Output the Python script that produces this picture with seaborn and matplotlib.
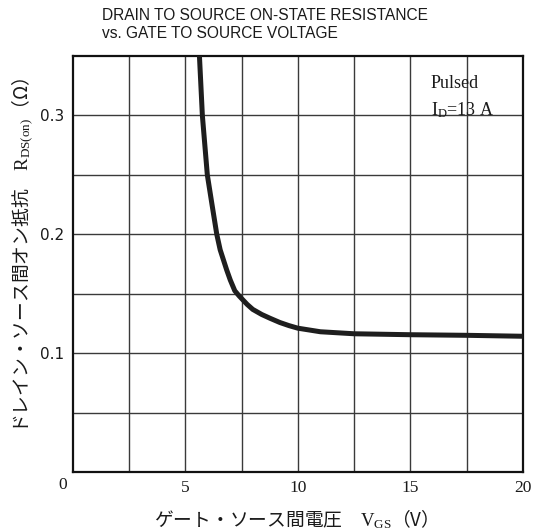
import matplotlib
matplotlib.use("Agg")
import matplotlib.pyplot as plt
import seaborn as sns
import pandas as pd

# R_DS(on) versus V_GS, pulsed, I_D = 13 A
vgs = [5.60, 5.63, 5.76, 5.98, 6.18, 6.40, 6.55, 6.84, 7.00, 7.20, 7.40, 7.50,
       7.75, 8.00, 8.40, 8.77, 9.20, 9.60, 10.0, 11.0, 12.5, 15.0, 17.5, 20.0]
rds_on = [0.360, 0.350, 0.300, 0.250, 0.226, 0.200, 0.187, 0.170, 0.1615, 0.1525,
          0.1480, 0.1460, 0.1410, 0.1368, 0.1325, 0.1293, 0.1258, 0.1232, 0.1210,
          0.1180, 0.1163, 0.1155, 0.1150, 0.1142]

x_ticks = [5, 10, 15, 20]
y_ticks = [0.1, 0.2, 0.3]

title_lines = ["DRAIN TO SOURCE ON-STATE RESISTANCE", "vs. GATE TO SOURCE VOLTAGE"]
x_label = "ゲート・ソース間電圧　$\\mathrm{V_{GS}}$（V）"
y_label = "ドレイン・ソース間オン抵抗　$\\mathrm{R_{DS(on)}}$（Ω）"
condition = ["Pulsed", "$\\mathrm{I_D}$=13 A"]

sns.set_theme(style="white")
plt.rcParams["font.family"] = ["Noto Sans CJK JP", "DejaVu Sans"]
plt.rcParams["mathtext.fontset"] = "custom"
plt.rcParams["mathtext.rm"] = "Liberation Serif"
plt.rcParams["mathtext.it"] = "Liberation Serif:italic"
plt.rcParams["mathtext.bf"] = "Liberation Serif:bold"

df = pd.DataFrame({"vgs": vgs, "rds_on": rds_on})

fig = plt.figure(figsize=(5.36, 5.32), dpi=100)
ax = fig.add_axes([0.1356, 0.1128, 0.8401, 0.7819])

# grid every 2.5 V and 0.05 ohm
for xv in [2.5 * i for i in range(1, 8)]:
    ax.axvline(xv, color="#3a3a3a", lw=1.0, zorder=1)
for yv in [0.05 * i for i in range(1, 7)]:
    ax.axhline(yv, color="#3a3a3a", lw=1.0, zorder=1)

sns.lineplot(data=df, x="vgs", y="rds_on", ax=ax, color="#1e1e1e", lw=3.6,
             sort=False, estimator=None, zorder=3,
             solid_joinstyle="round", solid_capstyle="round")

ax.set_xlim(0, 20)
ax.set_ylim(0, 0.35)
ax.set_xticks(x_ticks)
ax.set_xticklabels([str(v) for v in x_ticks], family="Liberation Serif", fontsize=12.5)
ax.set_yticks(y_ticks)
ax.set_yticklabels([f"{v:.1f}" for v in y_ticks], family="DejaVu Sans", fontsize=11)
ax.tick_params(axis="both", length=0, colors="#1a1a1a")
ax.tick_params(axis="x", pad=6)
ax.tick_params(axis="y", pad=6)

# shared origin label
ax.annotate("0", xy=(0, 0), xycoords="data", xytext=(-10, -13),
            textcoords="offset pixels", ha="center", va="center",
            family="Liberation Serif", fontsize=12.5, color="#1a1a1a")

for side in ax.spines.values():
    side.set_color("#111111")
    side.set_linewidth(1.6)

ax.set_xlabel(x_label, fontsize=13.5, color="#1a1a1a", va="center")
ax.set_ylabel(y_label, fontsize=13.5, color="#1a1a1a", va="center")
ax.xaxis.set_label_coords(0.485, -0.115)
ax.yaxis.set_label_coords(-0.113, 0.52)

ax.text(0.795, 0.955, condition[0], transform=ax.transAxes, ha="left", va="top",
        family="Liberation Serif", fontsize=13, color="#1a1a1a")
ax.text(0.795, 0.893, condition[1], transform=ax.transAxes, ha="left", va="top",
        family="Liberation Serif", fontsize=13, color="#1a1a1a")

fig.text(102 / 536, 1 - 15 / 532, title_lines[0], ha="left", va="center",
         family="Liberation Sans", fontsize=11.2, color="#1a1a1a")
fig.text(102 / 536, 1 - 34 / 532, title_lines[1], ha="left", va="center",
         family="Liberation Sans", fontsize=11.2, color="#1a1a1a")

fig.savefig("out.png", dpi=100, facecolor="white")
